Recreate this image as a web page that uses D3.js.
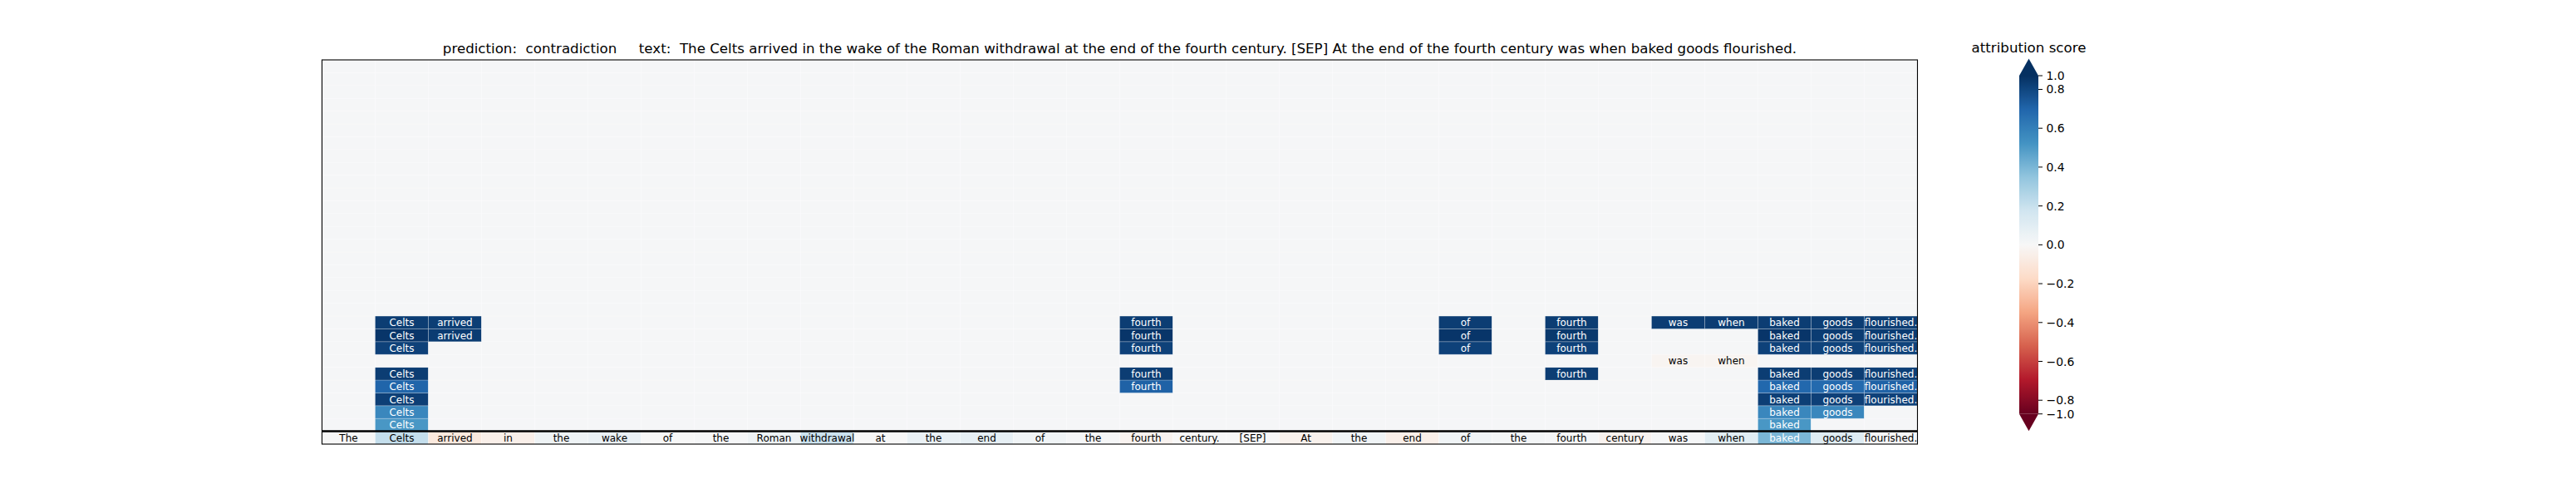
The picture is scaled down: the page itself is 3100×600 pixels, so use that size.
<!DOCTYPE html>
<html><head><meta charset="utf-8">
<script src="https://cdn.jsdelivr.net/npm/d3@7"></script>
<style>
body{margin:0;background:#fff;}
svg{display:block;font-family:"DejaVu Sans",sans-serif;}
</style>
</head><body>
<svg id="chart" width="3100" height="600"></svg>
<script>
// ---------------- data ----------------
const tokens = ["The","Celts","arrived","in","the","wake","of","the","Roman","withdrawal","at","the","end","of","the","fourth","century.","[SEP]","At","the","end","of","the","fourth","century","was","when","baked","goods","flourished."];
const predictionLabel = "contradiction";

// bottom row: attribution score of each token
const tokenScores = [0.00,0.21,-0.09,-0.05,0.04,0.06,0.00,0.01,0.04,0.19,0.00,0.06,0.08,0.03,0.01,-0.03,0.00,0.00,-0.04,0.03,-0.05,0.03,0.02,0.01,-0.03,0.01,0.10,0.40,0.11,0.01];

// rows above the separator, from bottom (row 1) to top (row 9); null = no highlighted token
const row1 = [null,0.51,null,null,null,null,null,null,null,null,null,null,null,null,null,null,null,null,null,null,null,null,null,null,null,null,null,0.51,null,null];
const row2 = [null,0.57,null,null,null,null,null,null,null,null,null,null,null,null,null,null,null,null,null,null,null,null,null,null,null,null,null,0.57,0.57,null];
const row3 = [null,0.86,null,null,null,null,null,null,null,null,null,null,null,null,null,null,null,null,null,null,null,null,null,null,null,null,null,0.86,0.85,0.84];
const row4 = [null,0.70,null,null,null,null,null,null,null,null,null,null,null,null,null,0.71,null,null,null,null,null,null,null,null,null,null,null,0.69,0.68,0.71];
const row5 = [null,0.88,null,null,null,null,null,null,null,null,null,null,null,null,null,0.88,null,null,null,null,null,null,null,0.88,null,null,null,0.88,0.88,0.86];
const row6 = [null,null,null,null,null,null,null,null,null,null,null,null,null,null,null,null,null,null,null,null,null,null,null,null,null,-0.02,-0.02,null,null,null];
const row7 = [null,0.84,null,null,null,null,null,null,null,null,null,null,null,null,null,0.84,null,null,null,null,null,0.84,null,0.84,null,null,null,0.84,0.83,0.83];
const row8 = [null,0.95,0.89,null,null,null,null,null,null,null,null,null,null,null,null,0.95,null,null,null,null,null,0.95,null,0.92,null,null,null,0.95,0.89,0.89];
const row9 = [null,0.88,0.87,null,null,null,null,null,null,null,null,null,null,null,null,0.88,null,null,null,null,null,0.88,null,0.88,null,0.88,0.88,0.88,0.88,0.88];
const layerRows = [row1,row2,row3,row4,row5,row6,row7,row8,row9];
const emptyRowCount = 20;
const emptyValue = 0.01;

const colorbarTicks = [-1.0,-0.8,-0.6,-0.4,-0.2,0.0,0.2,0.4,0.6,0.8,1.0];
const colorbarLabel = "attribution score";

// ---------------- drawing ----------------
const svg = d3.select("#chart");
const plot = {left:387.5, right:2307.5, top:72, bottom:534};
const nRows = 1 + layerRows.length + emptyRowCount;

const x = d3.scaleBand().domain(d3.range(tokens.length)).range([plot.left, plot.right]);
const y = d3.scaleBand().domain(d3.range(nRows)).range([plot.bottom, plot.top]);

const rdbu = d3.piecewise(d3.interpolateRgb, d3.schemeRdBu[11]);
const norm = d3.scaleLinear().domain([-1,-0.8,0.8,1]).range([0,0.0405,0.9595,1]).clamp(true);
const color = v => rdbu(norm(v));

const cells = [];
tokens.forEach((t,c) => cells.push({row:0, col:c, value:tokenScores[c], label:t}));
layerRows.forEach((r,i) => r.forEach((v,c) => cells.push({row:i+1, col:c, value: v===null?emptyValue:v, label: v===null?null:tokens[c]})));
for (let r = 1 + layerRows.length; r < nRows; r++) {
  tokens.forEach((t,c) => cells.push({row:r, col:c, value:emptyValue, label:null}));
}

const g = svg.append("g");
g.selectAll("rect.cell").data(cells).join("rect")
  .attr("class","cell")
  .attr("x", d => x(d.col)).attr("y", d => y(d.row))
  .attr("width", x.bandwidth()).attr("height", y.bandwidth())
  .attr("fill", d => color(d.value))
  .attr("stroke", "rgba(255,255,255,0.22)").attr("stroke-width", 1);

g.selectAll("text.lbl").data(cells.filter(d => d.label !== null)).join("text")
  .attr("class","lbl")
  .attr("x", d => x(d.col) + x.bandwidth()/2)
  .attr("y", d => y(d.row) + y.bandwidth()/2 + 0.5)
  .attr("text-anchor","middle").attr("dominant-baseline","central")
  .attr("font-size","12px")
  .attr("fill", d => Math.abs(d.value) >= 0.3 ? "#ffffff" : "#000000")
  .text(d => d.label);

// separator line above the token row
svg.append("line")
  .attr("x1", plot.left).attr("x2", plot.right)
  .attr("y1", y(0)).attr("y2", y(0))
  .attr("stroke","#000").attr("stroke-width",2.5);

// axes frame
svg.append("rect")
  .attr("x", plot.left).attr("y", plot.top)
  .attr("width", plot.right-plot.left).attr("height", plot.bottom-plot.top)
  .attr("fill","none").attr("stroke","#000").attr("stroke-width",1.1);

// title
svg.append("text")
  .attr("x", (plot.left+plot.right)/2).attr("y", 63.5)
  .attr("text-anchor","middle").attr("font-size","16.67px")
  .style("white-space","pre")
  .text(`prediction:  ${predictionLabel}     text:  ${tokens.join(" ")}`);

// colorbar
const cb = {x:2430, w:23, top:91, bottom:497.7, ext:20.5};
const defs = svg.append("defs");
const grad = defs.append("linearGradient").attr("id","cbgrad")
  .attr("x1",0).attr("x2",0).attr("y1",0).attr("y2",1);
d3.range(0,101).forEach(i => {
  grad.append("stop").attr("offset", i + "%").attr("stop-color", rdbu(1 - i/100));
});
svg.append("rect").attr("x",cb.x).attr("y",cb.top).attr("width",cb.w).attr("height",cb.bottom-cb.top)
  .attr("fill","url(#cbgrad)");
svg.append("path")
  .attr("d", `M${cb.x},${cb.top}L${cb.x+cb.w},${cb.top}L${cb.x+cb.w/2},${cb.top-cb.ext}Z`)
  .attr("fill", rdbu(1));
svg.append("path")
  .attr("d", `M${cb.x},${cb.bottom}L${cb.x+cb.w},${cb.bottom}L${cb.x+cb.w/2},${cb.bottom+cb.ext}Z`)
  .attr("fill", rdbu(0));

const cbY = d3.scaleLinear().domain([0,1]).range([cb.bottom, cb.top]);
const fmt = d3.format(".1f");
const tk = svg.append("g").selectAll("g").data(colorbarTicks).join("g")
  .attr("transform", d => `translate(${cb.x+cb.w},${cbY(norm(d))})`);
tk.append("line").attr("x1",0).attr("x2",5).attr("stroke","#000").attr("stroke-width",1);
tk.append("text").attr("x",9.5).attr("dominant-baseline","central")
  .attr("font-size","13.9px").attr("fill","#000").text(d => fmt(d));

svg.append("text")
  .attr("x", cb.x + cb.w/2).attr("y", 62.5)
  .attr("text-anchor","middle").attr("font-size","16.67px")
  .text(colorbarLabel);
</script>
</body></html>
